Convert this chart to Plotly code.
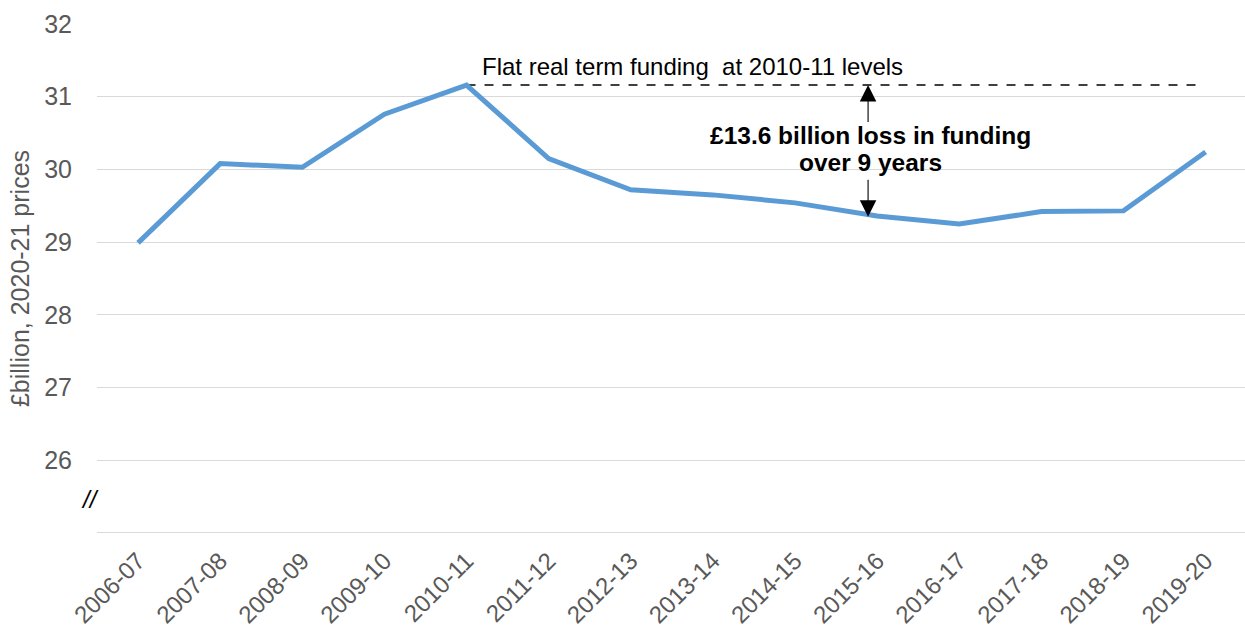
import plotly.graph_objects as go

years = ["2006-07", "2007-08", "2008-09", "2009-10", "2010-11", "2011-12", "2012-13",
         "2013-14", "2014-15", "2015-16", "2016-17", "2017-18", "2018-19", "2019-20"]
funding = [28.99, 30.08, 30.03, 30.76, 31.16, 30.15, 29.72,
           29.65, 29.54, 29.36, 29.25, 29.42, 29.43, 30.24]
y_ticks = [26, 27, 28, 29, 30, 31, 32]

flat_level = funding[years.index("2010-11")]
idx = list(range(len(years)))

FONT = "Arial, Liberation Sans, sans-serif"
GREY = "#595959"

fig = go.Figure()

# Flat real-terms reference line from 2010-11 onwards
fig.add_trace(go.Scatter(
    x=[4, 12.97], y=[flat_level, flat_level], mode="lines",
    line=dict(color="black", width=1.5, dash="dash"), hoverinfo="skip", showlegend=False,
))

fig.add_trace(go.Scatter(
    x=idx, y=funding, mode="lines",
    line=dict(color="#5B9BD5", width=5), showlegend=False,
))

arrow_x = 8.89
annotations = [
    dict(x=6.75, y=31.42, xref="x", yref="y", text="Flat real term funding  at 2010-11 levels",
         showarrow=False, font=dict(family=FONT, size=24, color="black")),
    dict(x=8.92, y=30.46, xref="x", yref="y", text="<b>£13.6 billion loss in funding</b>",
         showarrow=False, font=dict(family=FONT, size=24.5, color="black")),
    dict(x=8.92, y=30.10, xref="x", yref="y", text="<b>over 9 years</b>",
         showarrow=False, font=dict(family=FONT, size=24.5, color="black")),
    # up arrow to the flat line
    dict(x=arrow_x, y=flat_level, ax=arrow_x, ay=30.63, xref="x", yref="y", axref="x", ayref="y",
         text="", showarrow=True, arrowhead=2, arrowsize=3, arrowwidth=1.1, arrowcolor="black"),
    # down arrow to the funding line
    dict(x=arrow_x, y=funding[9] - 0.01, ax=arrow_x, ay=29.88, xref="x", yref="y", axref="x", ayref="y",
         text="", showarrow=True, arrowhead=2, arrowsize=3, arrowwidth=1.1, arrowcolor="black"),
    # axis break marker
    dict(xref="paper", yref="paper", x=(90 - 97) / 1148, y=1 - (499 - 24) / 509,
         xanchor="center", yanchor="middle", text="<i>//</i>", showarrow=False,
         font=dict(family=FONT, size=24, color="black")),
]

fig.update_layout(
    width=1245, height=631,
    margin=dict(l=97, r=0, t=24, b=98),
    paper_bgcolor="white", plot_bgcolor="white",
    annotations=annotations,
    xaxis=dict(
        range=[-0.5, 13.48], tickmode="array", tickvals=idx, ticktext=years,
        tickangle=-45, tickfont=dict(family=FONT, size=24, color=GREY),
        showgrid=False, zeroline=False, showline=False, ticks="", ticklabelstandoff=8,
    ),
    yaxis=dict(
        range=[25, 32], tickmode="array", tickvals=y_ticks,
        tickfont=dict(family=FONT, size=25, color=GREY),
        showgrid=True, gridcolor="#d9d9d9", gridwidth=1,
        zeroline=False, showline=False, ticks="", ticklabelstandoff=24,
        title=dict(text="£billion, 2020-21 prices", font=dict(family=FONT, size=25, color=GREY), standoff=7),
    ),
)

# bottom axis baseline at 25
fig.add_shape(type="line", xref="paper", yref="y", x0=0, x1=1, y0=25, y1=25,
              line=dict(color="#d9d9d9", width=2))

fig.write_html("out.html")
